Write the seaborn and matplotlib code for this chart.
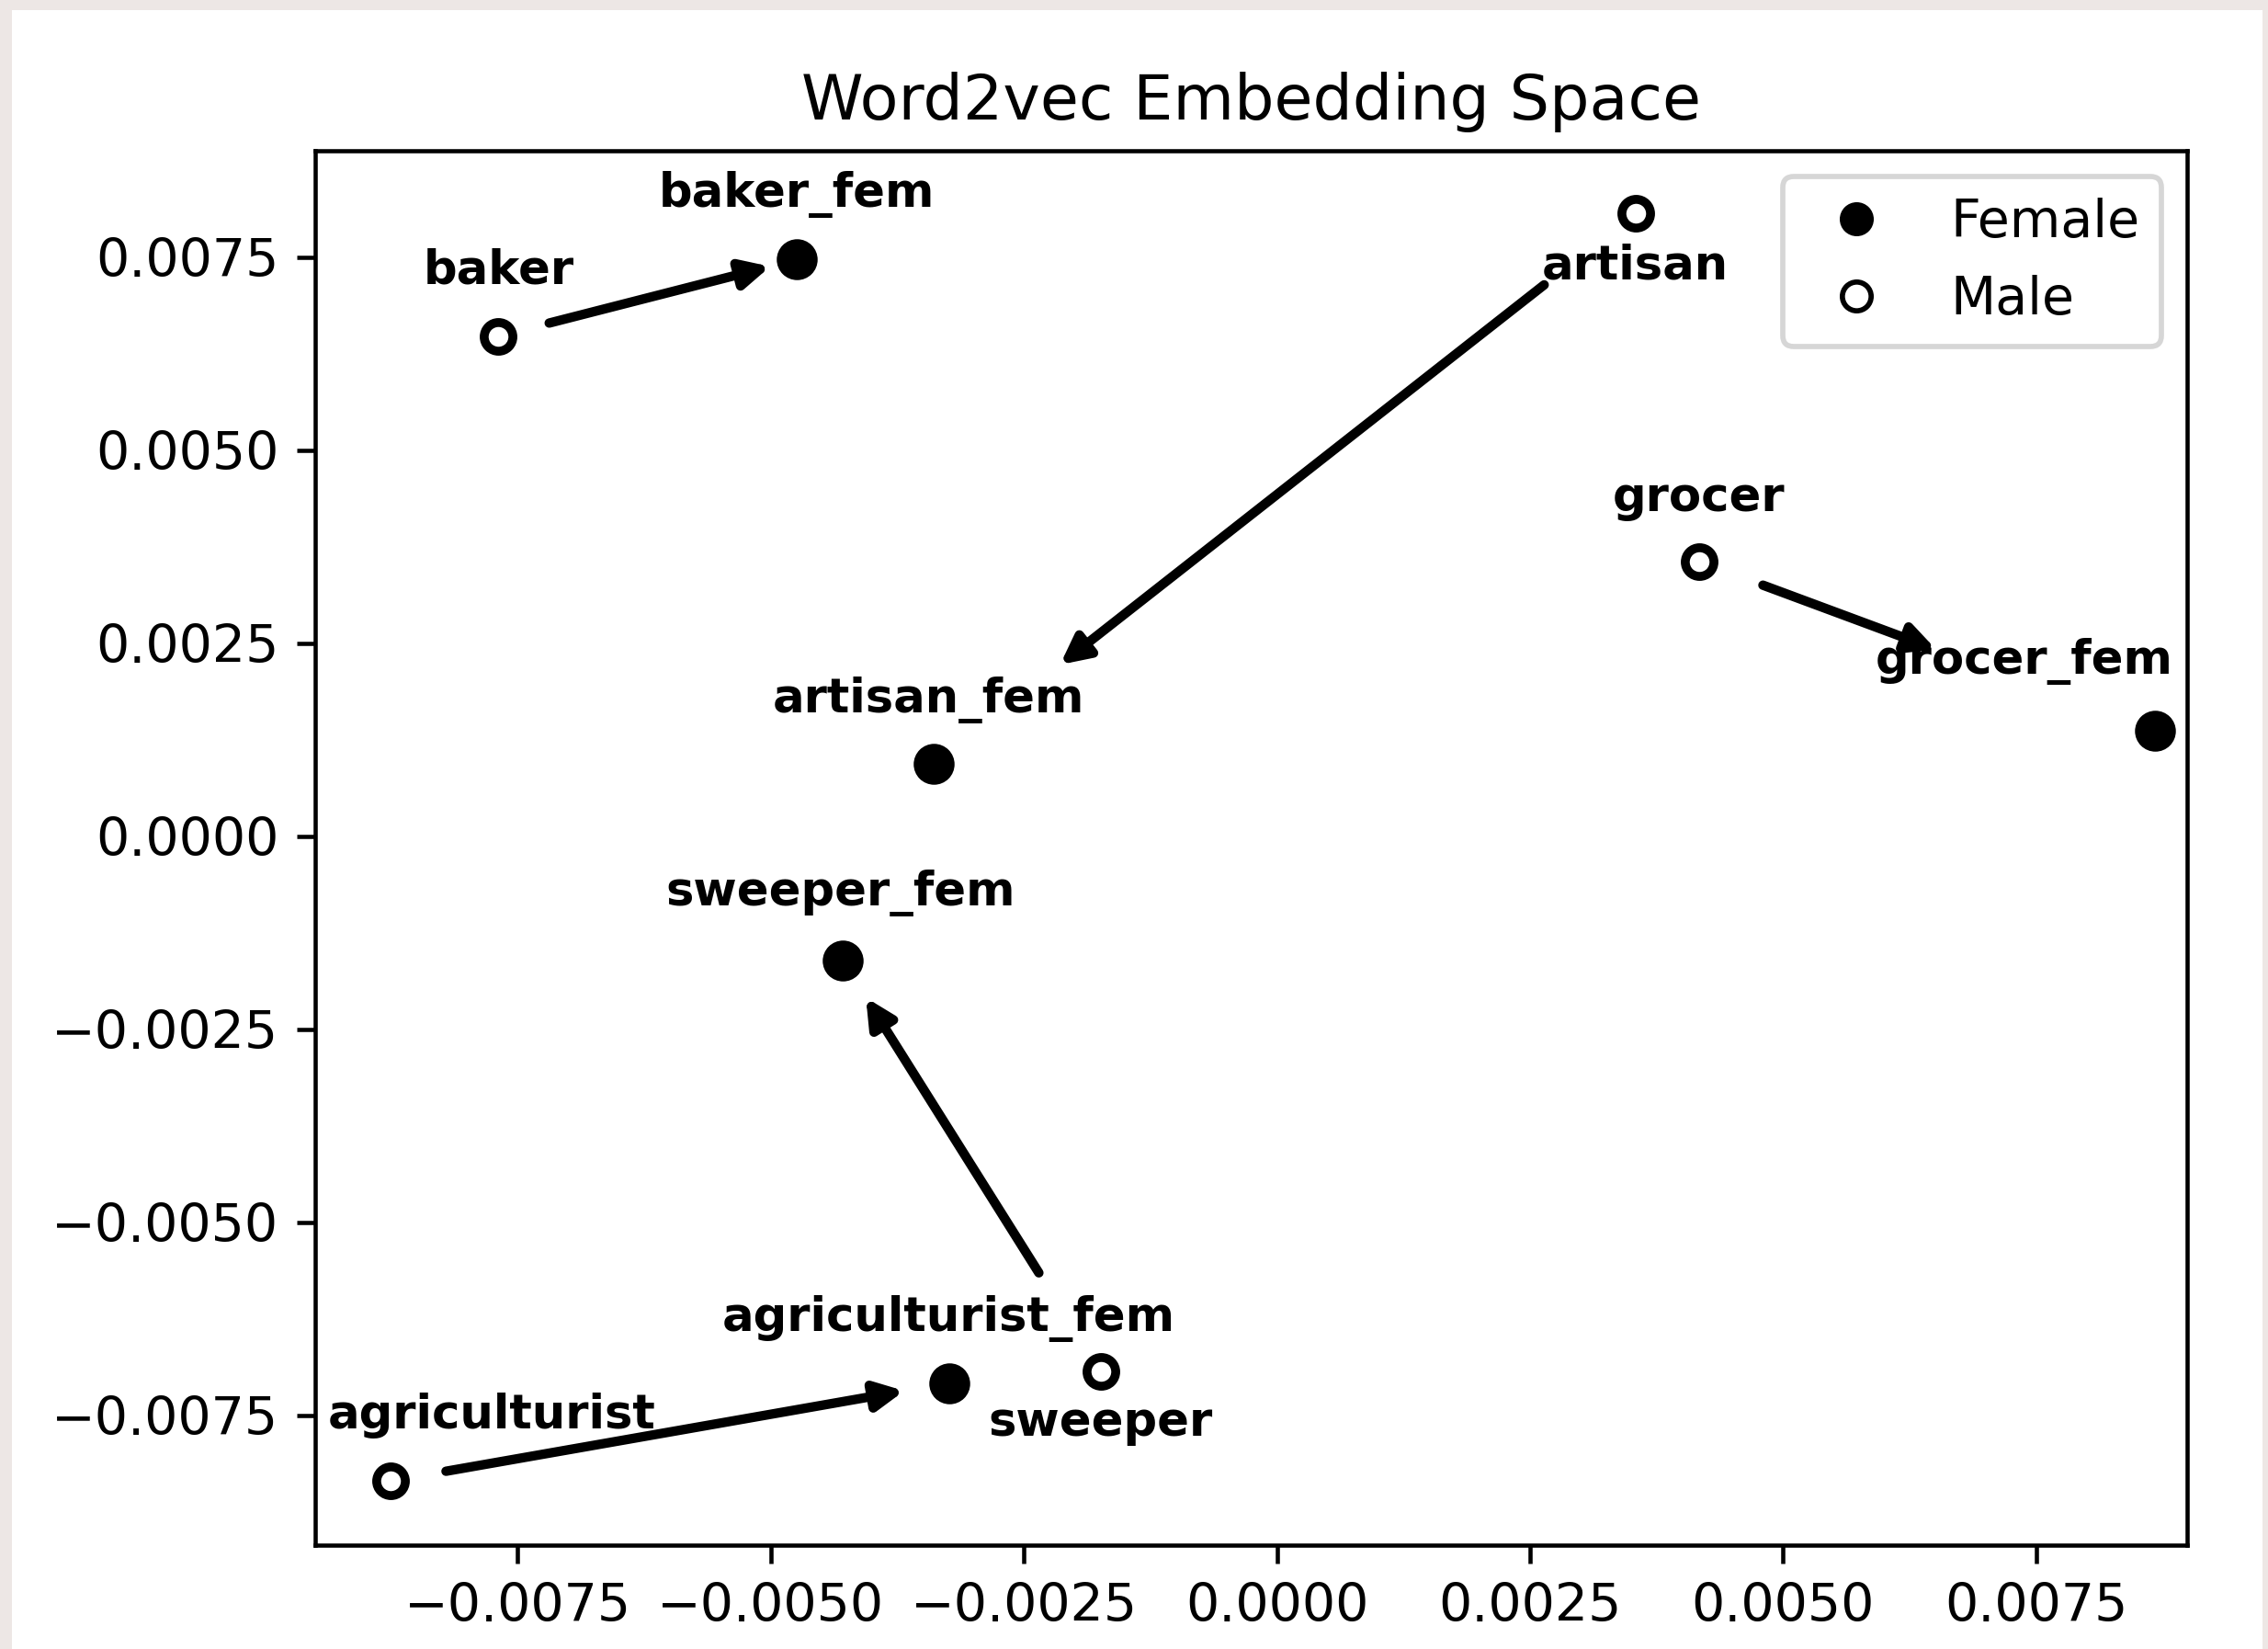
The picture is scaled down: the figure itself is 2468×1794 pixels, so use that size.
import numpy as np
import pandas as pd
import seaborn as sns
import matplotlib.pyplot as plt
from matplotlib.lines import Line2D
from matplotlib.patches import Rectangle

male_words = ['baker', 'artisan', 'grocer', 'sweeper', 'agriculturist']
male_x = [-0.00769, 0.00354, 0.00417, -0.00174, -0.00876]
male_y = [0.00648, 0.00807, 0.00356, -0.00693, -0.00835]

fem_words = ['baker_fem', 'artisan_fem', 'grocer_fem', 'sweeper_fem', 'agriculturist_fem']
fem_x = [-0.00474, -0.00339, 0.00867, -0.00429, -0.00324]
fem_y = [0.00747, 0.00094, 0.00137, -0.00161, -0.00708]

# label offsets in points (layout only)
male_offsets = [(0, 10), (0, -12.5), (0, 9.7), (0, -12.3), (19.5, 10)]
fem_offsets = [(0, 10), (-1, 9.8), (-25, 10.8), (-0.5, 10.5), (0, 10)]
# where each male->female arrow starts/ends along the segment
arrow_start = [0.17, 0.13, 0.14, 0.24, 0.10]
arrow_end = [0.91, 0.82, 0.52, 0.91, 0.92]

df_m = pd.DataFrame({'word': male_words, 'x': male_x, 'y': male_y})
df_f = pd.DataFrame({'word': fem_words, 'x': fem_x, 'y': fem_y})

W, H, DPI = 2468, 1794, 410
fig = plt.figure(figsize=(W / DPI, H / DPI), dpi=DPI, facecolor='#ede7e5')
fig.patches.append(Rectangle((13 / W, 0), 1 - 19 / W, 1 - 11 / H,
                             transform=fig.transFigure, facecolor='white',
                             edgecolor='none', zorder=-10))
ax = fig.add_axes([343 / W, 1 - 1681 / H, (2380 - 343) / W, (1681 - 164) / H])

sns.scatterplot(data=df_f, x='x', y='y', color='black', s=52,
                edgecolor='black', linewidth=0.6, ax=ax, legend=False, zorder=3)
sns.scatterplot(data=df_m, x='x', y='y', facecolor='white', s=30,
                edgecolor='black', linewidth=1.7, ax=ax, legend=False, zorder=3)

for df, offs in ((df_m, male_offsets), (df_f, fem_offsets)):
    for (_, r), off in zip(df.iterrows(), offs):
        ax.annotate(r['word'], (r['x'], r['y']), xytext=off, textcoords='offset points',
                    ha='center', va='baseline', fontsize=9, fontweight='bold')

for i in range(len(male_words)):
    p0 = np.array([male_x[i], male_y[i]])
    p1 = np.array([fem_x[i], fem_y[i]])
    a = p0 + arrow_start[i] * (p1 - p0)
    b = p0 + arrow_end[i] * (p1 - p0)
    ax.annotate('', xy=b, xytext=a,
                arrowprops=dict(arrowstyle='-|>', color='black', lw=1.8,
                                shrinkA=0, shrinkB=0, mutation_scale=11))

ax.set_xlim(-0.0095, 0.00899)
ax.set_ylim(-0.00918, 0.00888)
ax.set_xlabel('')
ax.set_ylabel('')
ax.set_title('Word2vec Embedding Space', fontsize=12)
ax.tick_params(labelsize=10)

handles = [Line2D([], [], marker='o', linestyle='none', color='black', markersize=5.5,
                  label='Female'),
           Line2D([], [], marker='o', linestyle='none', markerfacecolor='white',
                  markeredgecolor='black', markeredgewidth=1, markersize=5.5, label='Male')]
ax.legend(handles=handles, loc='upper right', fontsize=10)

fig.savefig('out.png', dpi=DPI, facecolor=fig.get_facecolor())
